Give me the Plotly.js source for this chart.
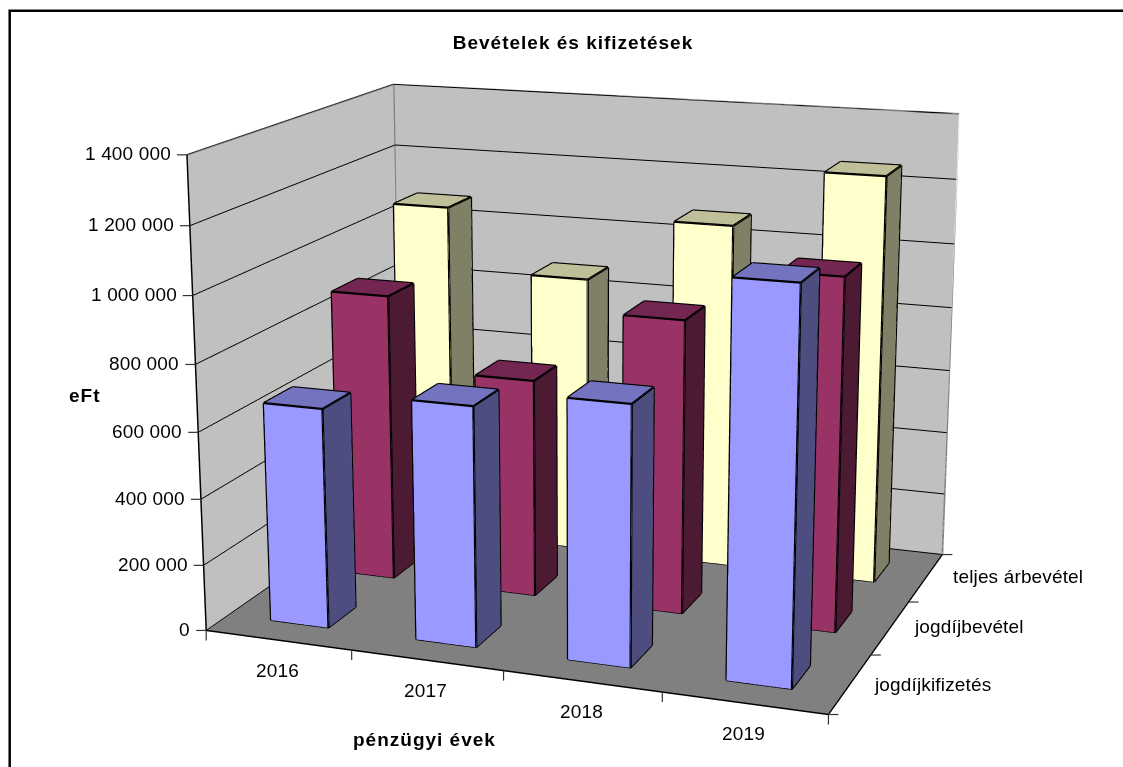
<!DOCTYPE html>
<html><head><meta charset="utf-8">
<script src="https://cdn.plot.ly/plotly-3.0.1.min.js"></script>
<style>html,body{margin:0;padding:0;width:1123px;height:767px;overflow:hidden;background:#fff}
#c{position:absolute;left:-41px;top:-685px;width:1166px;height:2147px}
.annotation-text{letter-spacing:.15px}
text[style*="font-weight: 700"]{letter-spacing:1px}
</style></head><body><div id="c"></div>
<script>
const years=['2016','2017','2018','2019'];
const seriesNames=['jogdíjkifizetés','jogdíjbevétel','teljes árbevétel'];
const kifizetes=[663000,715000,765000,1138000];
const jogdijbevetel=[890000,670000,892000,1055000];
const arbevetel=[1073000,877000,1078000,1258000];
const zTicks=[0,200000,400000,600000,800000,1000000,1200000,1400000];
const zTickText=['0','200 000','400 000','600 000','800 000','1 000 000','1 200 000','1 400 000'];
const frontColors=['#9999ff','#993366','#ffffcc'];
const topColors=['#7373bf','#732650','#bfbf99'];
const sideColors=['#4d4d80','#4d1a33','#808066'];

// camera of the scene; the oversized plot div gives Plotly's fixed field of view the reference's long lens
const W=1166,H=2147,left=-41,top0=-685;
const focal=H*1.20711,px=left+W/2,py=top0+H/2;
const eye=[1.3503,-3.7566,1.0402],F=[-0.3437,0.9024,-0.2599],U=[-0.0882,0.2445,0.9656];
const aspectY=0.7571,aspectZ=0.7519;
const xr=[-.5,3.5],yr=[-.5,2.5],zr=[0,1400000];
const dot=(a,b)=>a[0]*b[0]+a[1]*b[1]+a[2]*b[2];
const Rt=[F[1]*U[2]-F[2]*U[1],F[2]*U[0]-F[0]*U[2],F[0]*U[1]-F[1]*U[0]];
const pX=x=>(x-left)/W,pY=y=>1-(y-top0)/H;
function toScreen(x,y,z){const P=[(x-xr[0])/(xr[1]-xr[0])-.5,((y-yr[0])/(yr[1]-yr[0])-.5)*aspectY,((z-zr[0])/(zr[1]-zr[0])-.5)*aspectZ];
 const d=P.map((v,i)=>v-eye[i]);const s=dot(d,F);return [px+focal*dot(d,Rt)/s,py-focal*dot(d,U)/s];}
function tick(x,y,z,dx,dy){const a=toScreen(x,y,z);return {type:'line',xref:'paper',yref:'paper',x0:pX(a[0]),y0:pY(a[1]),x1:pX(a[0]+dx),y1:pY(a[1]+dy),line:{color:'#333',width:1.2}};}

const bw=.2,bd=.2;const seriesVals=[kifizetes,jogdijbevetel,arbevetel];
const traces=[];
seriesVals.forEach((vals,s)=>{
 const x=[],y=[],z=[],i=[],j=[],k=[],fc=[];const ex=[],ey=[],ez=[];
 vals.forEach((v,c)=>{const b=x.length;const x0=c-bw,x1=c+bw,y0=s-bd,y1=s+bd;
  const V=[[x0,y0,0],[x1,y0,0],[x1,y1,0],[x0,y1,0],[x0,y0,v],[x1,y0,v],[x1,y1,v],[x0,y1,v]];
  V.forEach(q=>{x.push(q[0]);y.push(q[1]);z.push(q[2]);});
  const faces=[[0,1,5,4,frontColors[s]],[1,2,6,5,sideColors[s]],[4,5,6,7,topColors[s]],[3,2,6,7,frontColors[s]],[0,3,7,4,sideColors[s]]];
  faces.forEach(q=>{i.push(b+q[0],b+q[0]);j.push(b+q[1],b+q[2]);k.push(b+q[2],b+q[3]);fc.push(q[4],q[4]);});
  [[0,1],[1,5],[5,4],[4,0],[1,2],[2,6],[6,5],[4,7],[7,6]].forEach(e=>{const a=V[e[0]],d=V[e[1]];ex.push(a[0],d[0],null);ey.push(a[1],d[1],null);ez.push(a[2],d[2],null);});
 });
 traces.push({type:'mesh3d',name:seriesNames[s],x,y,z,i,j,k,facecolor:fc,flatshading:true,lighting:{ambient:1,diffuse:0,specular:0,roughness:1,fresnel:0},hoverinfo:'name+z',showscale:false});
 traces.push({type:'scatter3d',mode:'lines',x:ex,y:ey,z:ez,line:{color:'#000',width:4.5},hoverinfo:'skip',showlegend:false});
});
traces.push({type:'scatter3d',mode:'lines',hoverinfo:'skip',showlegend:false,line:{color:'#808080',width:3.5},
 x:[xr[0],xr[0],xr[1],xr[1],null,xr[0],xr[0]],y:[yr[0],yr[1],yr[1],yr[1],null,yr[1],yr[1]],z:[zr[1],zr[1],zr[1],zr[0],null,zr[0],zr[1]]});
const tickf={family:'Liberation Sans, Arial, sans-serif',size:19,color:'#000'};
const ann=[];
zTicks.forEach((v,i)=>ann.push({x:xr[0],y:yr[0],z:v,text:zTickText[i],showarrow:false,xanchor:'right',yanchor:'middle',xshift:-14,yshift:1,font:tickf}));
years.forEach((t,i)=>ann.push({x:i,y:yr[0],z:0,text:t,showarrow:false,xanchor:'center',yanchor:'middle',yshift:-30,xshift:-1,font:tickf}));
const yLabelDx=[22,22,25],yLabelDy=[-1,1,1];
seriesNames.forEach((t,i)=>ann.push({x:xr[1],y:i,z:0,text:t,showarrow:false,xanchor:'left',yanchor:'middle',xshift:yLabelDx[i],yshift:yLabelDy[i],font:tickf}));
const axBase={showspikes:false,zeroline:false,showticklabels:false,title:{text:''},showline:true,linecolor:'#000',linewidth:3,ticks:'',showgrid:false};
const bold={family:'Liberation Sans, Arial, sans-serif',size:19,color:'#000',weight:700};
const shapes=[{type:'rect',xref:'paper',yref:'paper',x0:pX(9.7),x1:pX(1400),y0:pY(10.8),y1:pY(1400),line:{color:'#000',width:2.5}}];
zTicks.forEach(v=>shapes.push(tick(xr[0],yr[0],v,-10,0)));
[-.5,.5,1.5,2.5,3.5].forEach(v=>shapes.push(tick(v,yr[0],0,0,10)));
[-.5,.5,1.5,2.5].forEach(v=>shapes.push(tick(xr[1],v,0,10,0)));
const layout={width:W,height:H,margin:{l:0,r:0,t:0,b:0},paper_bgcolor:'#fff',showlegend:false,
 title:{text:'Bevételek és kifizetések',x:pX(573),y:pY(42),xref:'paper',yref:'paper',xanchor:'center',yanchor:'middle',font:bold},
 scene:{domain:{x:[0,1],y:[0,1]},aspectmode:'manual',aspectratio:{x:1,y:aspectY,z:aspectZ},dragmode:'orbit',
  camera:{projection:{type:'perspective'},eye:{x:eye[0],y:eye[1],z:eye[2]},center:{x:eye[0]+F[0]*3,y:eye[1]+F[1]*3,z:eye[2]+F[2]*3},up:{x:U[0],y:U[1],z:U[2]}},
  xaxis:{...axBase,range:xr,tickvals:[-.5,.5,1.5,2.5,3.5],showbackground:true,backgroundcolor:'#c0c0c0'},
  yaxis:{...axBase,range:yr,tickvals:[-.5,.5,1.5,2.5],showbackground:true,backgroundcolor:'#c0c0c0'},
  zaxis:{...axBase,range:zr,tickvals:zTicks,showgrid:true,gridcolor:'#000',gridwidth:2,showbackground:true,backgroundcolor:'#808080'},
  annotations:ann},
 annotations:[{xref:'paper',yref:'paper',x:pX(67),y:pY(395),text:'eFt',showarrow:false,font:bold},
  {xref:'paper',yref:'paper',x:pX(424),y:pY(739),text:'pénzügyi évek',showarrow:false,font:bold}],
 shapes};
Plotly.newPlot('c',traces,layout,{displayModeBar:false});
</script></body></html>
